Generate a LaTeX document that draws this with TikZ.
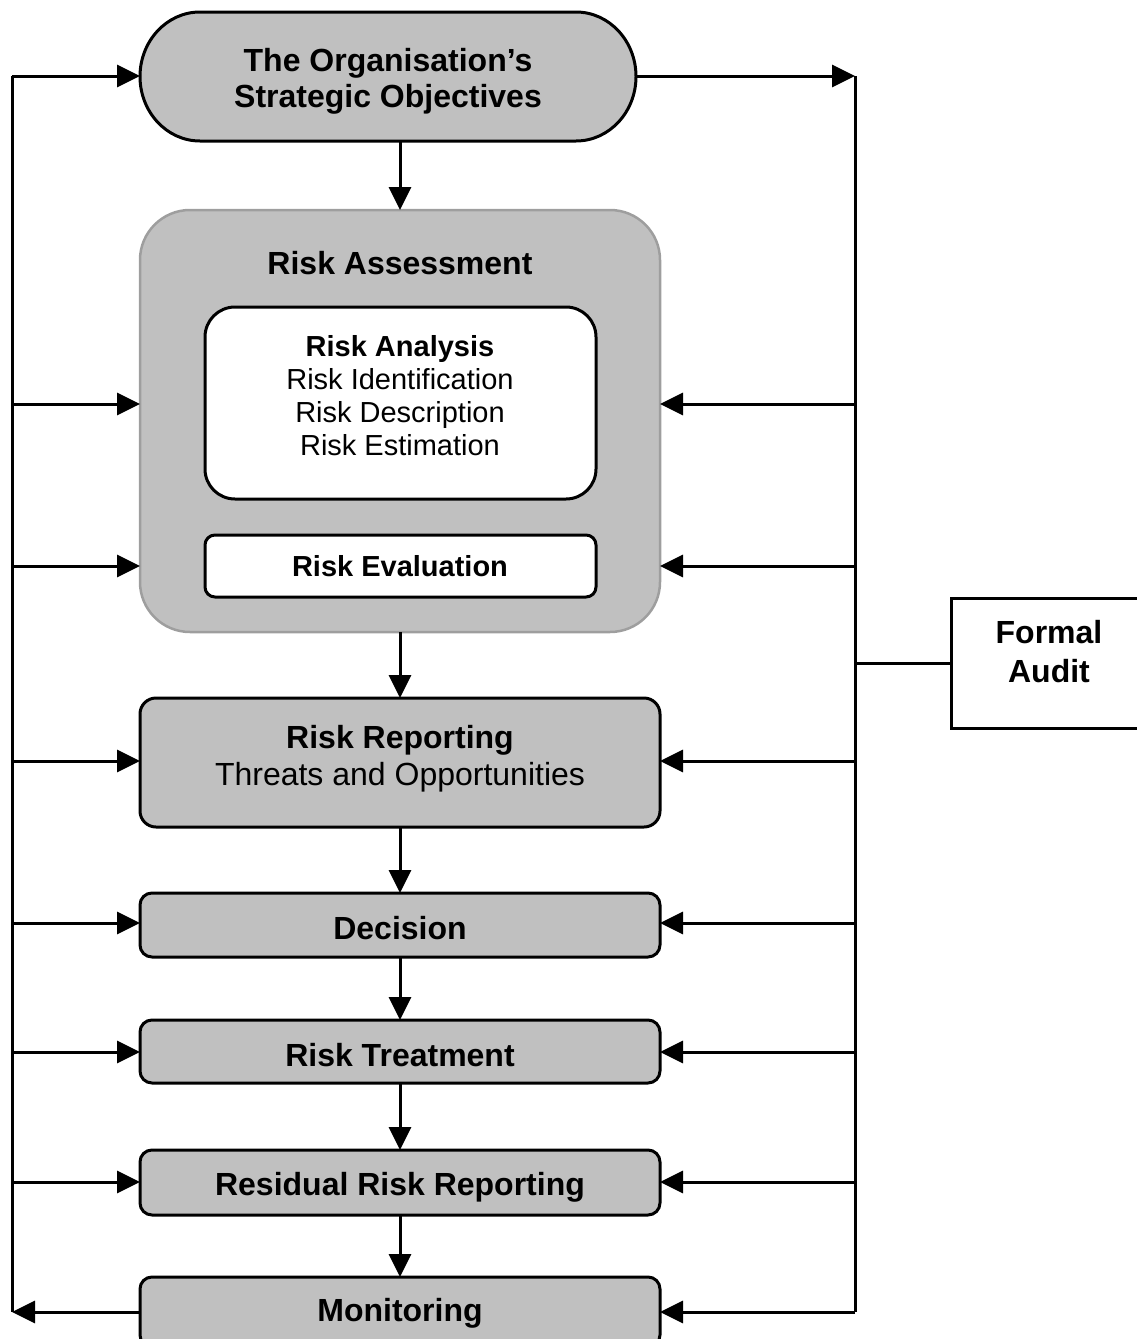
\documentclass[tikz,border=0pt]{standalone}
\usepackage{fontspec}
\setmainfont{Liberation Sans}
\usetikzlibrary{arrows.meta}
\definecolor{boxgray}{RGB}{192,192,192}
\definecolor{edgegray}{RGB}{158,158,158}
\begin{document}
\begin{tikzpicture}[x=1pt,y=-1pt, line width=3pt,
  every node/.style={inner sep=0pt, outer sep=0pt},
  tip/.style={-{Triangle[length=23pt,width=22pt]}},
  stepbox/.style={draw=black, fill=boxgray, rounded corners=12pt, minimum width=520pt},
  whitebox/.style={draw=black, fill=white, minimum width=391pt},
  bigb/.style={font=\fontsize{32}{36}\selectfont\bfseries, anchor=base},
  bigr/.style={font=\fontsize{32}{36}\selectfont, anchor=base},
  smallb/.style={font=\fontsize{29}{33}\selectfont\bfseries, anchor=base},
  smallr/.style={font=\fontsize{29}{33}\selectfont, anchor=base},
]
\clip (0,0) rectangle (1137,1339);

% buses
\coordinate (LT) at (12,76);
\coordinate (LB) at (12,1312);
\coordinate (RT) at (855,76);
\coordinate (RB) at (855,1312);
\draw (LT) -- (LB);
\draw (RT) -- (RB);

% strategic objectives (stadium)
\draw[fill=boxgray] (200,12) -- (576,12)
  arc[start angle=-90,end angle=90,x radius=60,y radius=64.5] -- (200,141)
  arc[start angle=90,end angle=270,x radius=60,y radius=64.5] -- cycle;
\node[minimum width=496pt, minimum height=130pt] (obj) at (388,76) {};
\node[bigb] (objt1) at (388,71) {The Organisation’s};
\node[bigb] (objt2) at (388,107) {Strategic Objectives};

% risk assessment
\node[draw=edgegray, line width=2.5pt, fill=boxgray, rounded corners=50pt,
      minimum width=520pt, minimum height=422pt] (ra) at (400,421) {};
\node[bigb] (rat) at (400,274) {Risk Assessment};
\node[whitebox, rounded corners=30pt, minimum height=192pt] (ran) at (400.5,403) {};
\node[smallb] (rant1) at (400,356) {Risk Analysis};
\node[smallr] (rant2) at (400,389) {Risk Identification};
\node[smallr] (rant3) at (400,422) {Risk Description};
\node[smallr] (rant4) at (400,455) {Risk Estimation};
\node[whitebox, rounded corners=10pt, minimum height=62pt] (rev) at (400.5,566) {};
\node[smallb] (revt) at (400,576) {Risk Evaluation};

% steps
\node[stepbox, rounded corners=16pt, minimum height=129pt] (rr) at (400,762.5) {};
\node[bigb] (rrt1) at (400,748) {Risk Reporting};
\node[bigr] (rrt2) at (400,785) {Threats and Opportunities};

\node[stepbox, minimum height=64pt] (dec) at (400,925) {};
\node[bigb] (dect) at (400,939) {Decision};

\node[stepbox, minimum height=63pt] (rt) at (400,1051.5) {};
\node[bigb] (rtt) at (400,1066) {Risk Treatment};

\node[stepbox, minimum height=65pt] (rrr) at (400,1182.5) {};
\node[bigb] (rrrt) at (400,1195) {Residual Risk Reporting};

\node[stepbox, minimum height=70pt] (mon) at (400,1312) {};
\node[bigb] (mont) at (400,1321) {Monitoring};

% formal audit
\node[draw=black, fill=white, minimum width=200pt, minimum height=130pt] (fa) at (1051,663) {};
\node[bigb] (fat1) at (1049,643) {Formal};
\node[bigb] (fat2) at (1049,682) {Audit};
\coordinate (RF) at (855,663);
\draw (RF) -- (RF -| fa.west);

% top connectors
\draw[tip] (LT) -- (obj.west);
\draw[tip] (obj.east) -- (RT);

% vertical flow
\draw[tip] (obj.south -| ra.north) -- (ra.north);
\draw[tip] (ra.south) -- (rr.north);
\draw[tip] (rr.south) -- (dec.north);
\draw[tip] (dec.south) -- (rt.north);
\draw[tip] (rt.south) -- (rrr.north);
\draw[tip] (rrr.south) -- (mon.north);

% side arrows
\foreach \yy/\nn in {404/ra, 566/ra, 761/rr, 923/dec, 1052/rt, 1182/rrr}{
  \coordinate (L\yy) at (12,\yy);
  \coordinate (R\yy) at (855,\yy);
  \draw[tip] (L\yy) -- (L\yy -| \nn.west);
  \draw[tip] (R\yy) -- (R\yy -| \nn.east);
}
\draw[tip] (LB -| mon.west) -- (LB);
\draw[tip] (RB) -- (RB -| mon.east);
\end{tikzpicture}
\end{document}
